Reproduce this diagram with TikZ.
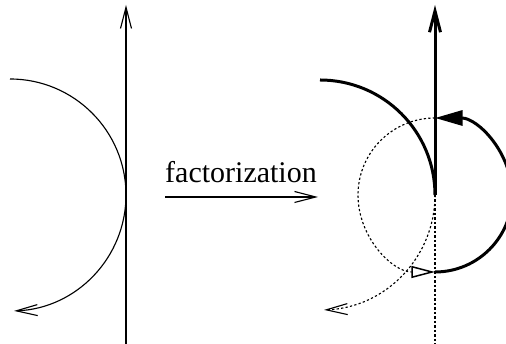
\documentclass[tikz,border=0pt]{standalone}
\usepackage{fontspec}
\setmainfont{Liberation Serif}
\usetikzlibrary{arrows.meta}

\tikzset{
  fine/.style={line width=0.45pt},
  gras/.style={line width=1.2pt},
  pointille/.style={line width=0.45pt, dash pattern=on 0.9pt off 0.9pt},
  ouverte/.style={-{Straight Barb[length=8.5pt, width=4.4pt]}},
  vide/.style={-{Triangle[open, length=9.5pt, width=4.8pt, line width=0.6pt]}},
  pleine/.style={-{Triangle[length=11pt, width=6pt]}}
}

\begin{document}
\begin{tikzpicture}[x=0.4pt, y=0.4pt]

    \useasboundingbox (0,0) rectangle (506,344);

    % Figure de gauche
    \coordinate (gbas) at (126,-2);
    \coordinate (ghaut) at (126,339);
    \draw[fine, ouverte] (gbas) -- (ghaut);
    \draw[fine, ouverte] (10,265) arc[start angle=90, end angle=-88, radius=116];

    % Fleche centrale
    \coordinate (fdep) at (165,147);
    \coordinate (farr) at (318,147);
    \draw[fine, ouverte] (fdep) -- (farr);
    \node[font=\fontsize{12}{14}\selectfont, anchor=base] (fact) at (241,161)
      {factorization};

    % Figure de droite
    \coordinate (dcentre) at (435,149);
    \coordinate (dhaut) at (435,339);
    \coordinate (dbas) at (435,-2);
    \draw[gras, ouverte] (dcentre) -- (dhaut);
    \draw[pointille] (dcentre) -- (dbas);
    \draw[gras] (320,264) arc[start angle=90, end angle=0, radius=115];
    \draw[pointille, ouverte] (dcentre) arc[start angle=0, end angle=-88, radius=115];

    % Boucle : moitie pointillee puis moitie grasse
    \draw[pointille, vide] (435,226) arc[start angle=90, end angle=270, radius=77];
    \draw[gras, pleine] (435,72) arc[start angle=-90, end angle=90, radius=77];

\end{tikzpicture}
\end{document}
